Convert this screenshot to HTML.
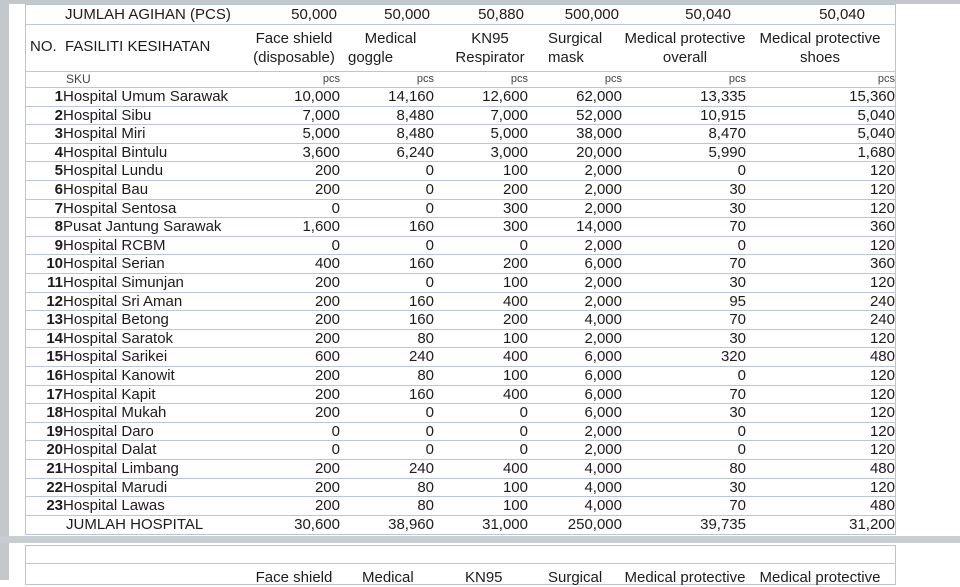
<!DOCTYPE html>
<html><head><meta charset="utf-8"><style>
*{margin:0;padding:0;box-sizing:border-box}
body{width:960px;height:580px;background:#fff;position:relative;overflow:hidden;font-family:"Liberation Sans",Arial,sans-serif;color:#1c1c1c;font-size:15px}
.gl{position:absolute;left:0;top:0;width:9px;height:580px;background:#c4c7cc}
.gt{position:absolute;left:0;top:0;width:960px;height:4px;background:#c4c7cc}
.gs{position:absolute;left:0;top:536px;width:960px;height:7px;background:#c9ccd0}
.tb{position:absolute;left:25px;width:871px;border:1px solid #b6c6d6}
.r{position:absolute;left:25px;width:871px;height:18.6px;line-height:18px;border-bottom:1px solid #b9c8d8}
.r span{position:absolute;top:0;white-space:nowrap}
.n{right:833px;font-weight:bold}
.nm{left:38px}
.c1{right:556px}.c2{right:462px}.c3{right:368px}.c4{right:274px}.c5{right:150px}.c6{right:1px}
.h{position:absolute;white-space:nowrap;text-align:center;line-height:19px}
.pcs{font-size:11px;color:#444}
</style></head><body>
<div class="gt"></div><div class="gl"></div>
<div class="tb" style="top:4px;height:531px"></div>
<div class="r" style="top:5px;height:20px;line-height:20px"><span style="left:40px">JUMLAH AGIHAN (PCS)</span><span style="right:559px">50,000</span><span style="right:466px">50,000</span><span style="right:372px">50,880</span><span style="right:277px">500,000</span><span style="right:165px">50,040</span><span style="right:31px">50,040</span></div>
<div class="r" style="top:25px;height:47px"></div>
<div class="h" style="left:30px;top:37px">NO.&nbsp; FASILITI KESIHATAN</div>
<div class="h" style="left:249px;top:29px;width:90px">Face shield<br>(disposable)</div>
<div class="h" style="left:348px;top:29px;text-align:left">&nbsp;&nbsp;&nbsp;&nbsp;Medical<br>goggle</div>
<div class="h" style="left:450px;top:29px;width:80px">KN95<br>Respirator</div>
<div class="h" style="left:548px;top:29px;text-align:left">Surgical<br>mask</div>
<div class="h" style="left:620px;top:29px;width:130px">Medical protective<br>overall</div>
<div class="h" style="left:755px;top:29px;width:130px">Medical protective<br>shoes</div>
<div class="r pcs" style="top:72px;height:16px;line-height:14px"><span style="left:41px;font-size:12px">SKU</span><span class="c1">pcs</span><span class="c2">pcs</span><span class="c3">pcs</span><span class="c4">pcs</span><span class="c5">pcs</span><span class="c6">pcs</span></div>
<div class="r" style="top:88px"><span class="n">1</span><span class="nm">Hospital Umum Sarawak</span><span class="c1">10,000</span><span class="c2">14,160</span><span class="c3">12,600</span><span class="c4">62,000</span><span class="c5">13,335</span><span class="c6">15,360</span></div>
<div class="r" style="top:106.6px"><span class="n">2</span><span class="nm">Hospital Sibu</span><span class="c1">7,000</span><span class="c2">8,480</span><span class="c3">7,000</span><span class="c4">52,000</span><span class="c5">10,915</span><span class="c6">5,040</span></div>
<div class="r" style="top:125.2px"><span class="n">3</span><span class="nm">Hospital Miri</span><span class="c1">5,000</span><span class="c2">8,480</span><span class="c3">5,000</span><span class="c4">38,000</span><span class="c5">8,470</span><span class="c6">5,040</span></div>
<div class="r" style="top:143.8px"><span class="n">4</span><span class="nm">Hospital Bintulu</span><span class="c1">3,600</span><span class="c2">6,240</span><span class="c3">3,000</span><span class="c4">20,000</span><span class="c5">5,990</span><span class="c6">1,680</span></div>
<div class="r" style="top:162.4px"><span class="n">5</span><span class="nm">Hospital Lundu</span><span class="c1">200</span><span class="c2">0</span><span class="c3">100</span><span class="c4">2,000</span><span class="c5">0</span><span class="c6">120</span></div>
<div class="r" style="top:181px"><span class="n">6</span><span class="nm">Hospital Bau</span><span class="c1">200</span><span class="c2">0</span><span class="c3">200</span><span class="c4">2,000</span><span class="c5">30</span><span class="c6">120</span></div>
<div class="r" style="top:199.6px"><span class="n">7</span><span class="nm">Hospital Sentosa</span><span class="c1">0</span><span class="c2">0</span><span class="c3">300</span><span class="c4">2,000</span><span class="c5">30</span><span class="c6">120</span></div>
<div class="r" style="top:218.2px"><span class="n">8</span><span class="nm">Pusat Jantung Sarawak</span><span class="c1">1,600</span><span class="c2">160</span><span class="c3">300</span><span class="c4">14,000</span><span class="c5">70</span><span class="c6">360</span></div>
<div class="r" style="top:236.8px"><span class="n">9</span><span class="nm">Hospital RCBM</span><span class="c1">0</span><span class="c2">0</span><span class="c3">0</span><span class="c4">2,000</span><span class="c5">0</span><span class="c6">120</span></div>
<div class="r" style="top:255.4px"><span class="n">10</span><span class="nm">Hospital Serian</span><span class="c1">400</span><span class="c2">160</span><span class="c3">200</span><span class="c4">6,000</span><span class="c5">70</span><span class="c6">360</span></div>
<div class="r" style="top:274px"><span class="n">11</span><span class="nm">Hospital Simunjan</span><span class="c1">200</span><span class="c2">0</span><span class="c3">100</span><span class="c4">2,000</span><span class="c5">30</span><span class="c6">120</span></div>
<div class="r" style="top:292.6px"><span class="n">12</span><span class="nm">Hospital Sri Aman</span><span class="c1">200</span><span class="c2">160</span><span class="c3">400</span><span class="c4">2,000</span><span class="c5">95</span><span class="c6">240</span></div>
<div class="r" style="top:311.2px"><span class="n">13</span><span class="nm">Hospital Betong</span><span class="c1">200</span><span class="c2">160</span><span class="c3">200</span><span class="c4">4,000</span><span class="c5">70</span><span class="c6">240</span></div>
<div class="r" style="top:329.8px"><span class="n">14</span><span class="nm">Hospital Saratok</span><span class="c1">200</span><span class="c2">80</span><span class="c3">100</span><span class="c4">2,000</span><span class="c5">30</span><span class="c6">120</span></div>
<div class="r" style="top:348.4px"><span class="n">15</span><span class="nm">Hospital Sarikei</span><span class="c1">600</span><span class="c2">240</span><span class="c3">400</span><span class="c4">6,000</span><span class="c5">320</span><span class="c6">480</span></div>
<div class="r" style="top:367px"><span class="n">16</span><span class="nm">Hospital Kanowit</span><span class="c1">200</span><span class="c2">80</span><span class="c3">100</span><span class="c4">6,000</span><span class="c5">0</span><span class="c6">120</span></div>
<div class="r" style="top:385.6px"><span class="n">17</span><span class="nm">Hospital Kapit</span><span class="c1">200</span><span class="c2">160</span><span class="c3">400</span><span class="c4">6,000</span><span class="c5">70</span><span class="c6">120</span></div>
<div class="r" style="top:404.2px"><span class="n">18</span><span class="nm">Hospital Mukah</span><span class="c1">200</span><span class="c2">0</span><span class="c3">0</span><span class="c4">6,000</span><span class="c5">30</span><span class="c6">120</span></div>
<div class="r" style="top:422.8px"><span class="n">19</span><span class="nm">Hospital Daro</span><span class="c1">0</span><span class="c2">0</span><span class="c3">0</span><span class="c4">2,000</span><span class="c5">0</span><span class="c6">120</span></div>
<div class="r" style="top:441.4px"><span class="n">20</span><span class="nm">Hospital Dalat</span><span class="c1">0</span><span class="c2">0</span><span class="c3">0</span><span class="c4">2,000</span><span class="c5">0</span><span class="c6">120</span></div>
<div class="r" style="top:460px"><span class="n">21</span><span class="nm">Hospital Limbang</span><span class="c1">200</span><span class="c2">240</span><span class="c3">400</span><span class="c4">4,000</span><span class="c5">80</span><span class="c6">480</span></div>
<div class="r" style="top:478.6px"><span class="n">22</span><span class="nm">Hospital Marudi</span><span class="c1">200</span><span class="c2">80</span><span class="c3">100</span><span class="c4">4,000</span><span class="c5">30</span><span class="c6">120</span></div>
<div class="r" style="top:497.2px"><span class="n">23</span><span class="nm">Hospital Lawas</span><span class="c1">200</span><span class="c2">80</span><span class="c3">100</span><span class="c4">4,000</span><span class="c5">70</span><span class="c6">480</span></div>
<div class="r" style="top:515.8px;border-bottom:none"><span style="left:41px">JUMLAH HOSPITAL</span><span class="c1">30,600</span><span class="c2">38,960</span><span class="c3">31,000</span><span class="c4">250,000</span><span class="c5">39,735</span><span class="c6">31,200</span></div>
<div class="gs"></div>
<div class="tb" style="top:545px;height:40px"></div>
<div class="r" style="top:545px;height:19px"></div>
<div class="h" style="left:249px;top:568px;width:90px">Face shield</div>
<div class="h" style="left:362px;top:568px">Medical</div>
<div class="h" style="left:465px;top:568px">KN95</div>
<div class="h" style="left:548px;top:568px">Surgical</div>
<div class="h" style="left:620px;top:568px;width:130px">Medical protective</div>
<div class="h" style="left:755px;top:568px;width:130px">Medical protective</div>
</body></html>
